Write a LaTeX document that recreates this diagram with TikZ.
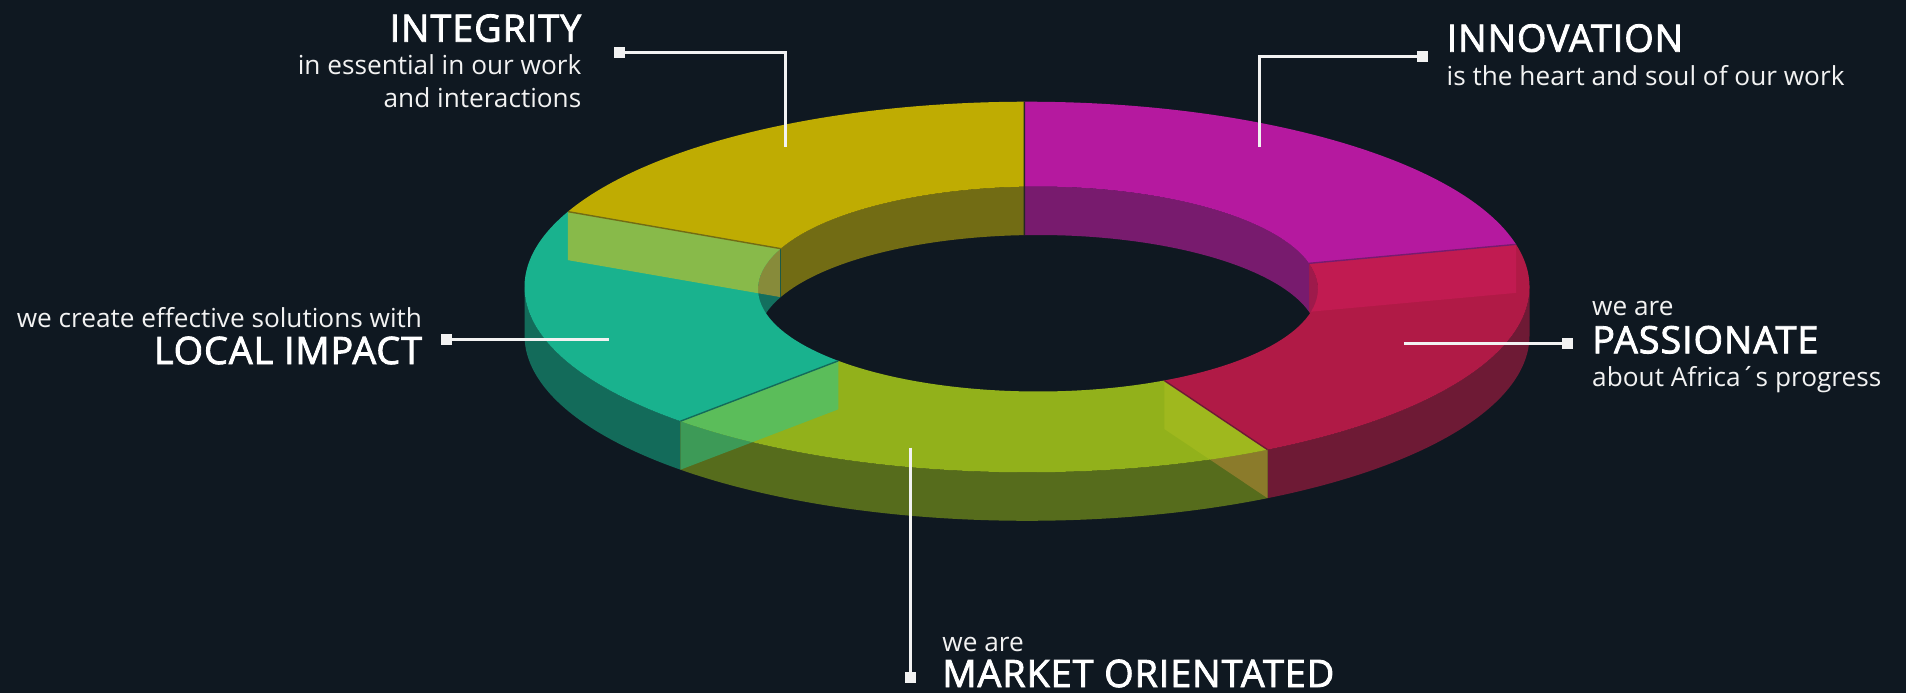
\documentclass[tikz,border=0pt]{standalone}
\usepackage{fontspec}
\setmainfont{Open Sans}
\newfontfamily\headfont{Open Sans}[FakeBold=2.2, LetterSpace=2.4]

\definecolor{bgnavy}{HTML}{0F1821}
\definecolor{yeltop}{HTML}{BFAC02}
\definecolor{yelwall}{HTML}{726C14}
\definecolor{magtop}{HTML}{B5199F}
\definecolor{magwall}{HTML}{781B6E}
\definecolor{redtop}{HTML}{B01A46}
\definecolor{redwall}{HTML}{6E1A35}
\definecolor{redinwall}{HTML}{9E1A4B}
\definecolor{limtop}{HTML}{92B11B}
\definecolor{limwall}{HTML}{566C1C}
\definecolor{teatop}{HTML}{19B28E}
\definecolor{teawall}{HTML}{136B5A}
\definecolor{teainwall}{HTML}{136F5E}
\definecolor{yelface}{HTML}{88BA4A}
\definecolor{yelfacein}{HTML}{878B3A}
\definecolor{teaface}{HTML}{5BBD5A}
\definecolor{teafacewall}{HTML}{3D9A57}
\definecolor{redface}{HTML}{9FB81E}
\definecolor{redfacewall}{HTML}{8B7B2B}
\definecolor{magface}{HTML}{C11B51}
\definecolor{labeltext}{HTML}{F2F2F2}

% ring pieces: outer ellipse round (o), inner ellipse round (i)
\newcommand{\topface}[4]{([shift={(o)}]#1:502.5 and 185.3) arc[start angle=#1, end angle=#2, x radius=502.5, y radius=185.3] -- ([shift={(i)}]#3:280 and 102.5) arc[start angle=#3, end angle=#4, x radius=280, y radius=102.5] -- cycle}
\newcommand{\outwall}[2]{([shift={(o)}]#1:502.5 and 185.3) arc[start angle=#1, end angle=#2, x radius=502.5, y radius=185.3] -- ++(0,-48.5) arc[start angle=#2, end angle=#1, x radius=502.5, y radius=185.3] -- cycle}
\newcommand{\inwall}[2]{([shift={(i)}]#1:280 and 102.5) arc[start angle=#1, end angle=#2, x radius=280, y radius=102.5] -- ++(0,-48.5) arc[start angle=#2, end angle=#1, x radius=280, y radius=102.5] -- cycle}
\newcommand{\cutface}[2]{([shift={(o)}]#1:502.5 and 185.3) -- ([shift={(i)}]#2:280 and 102.5) -- ([shift={(i)},shift={(0,-48.5)}]#2:280 and 102.5) -- ([shift={(o)},shift={(0,-48.5)}]#1:502.5 and 185.3) -- cycle}

\begin{document}
\begin{tikzpicture}[x=0.5pt, y=0.5pt,
    lead/.style={draw=labeltext, line width=1.5pt},
    dot/.style={rectangle, fill=labeltext, inner sep=0pt, minimum size=5.5pt},
    title/.style={text=white, inner sep=0pt, font=\headfont\fontsize{18.9}{22}\selectfont},
    blurb/.style={text=labeltext, inner sep=0pt, font=\fontsize{13.1}{16}\selectfont},
    seam/.style={line width=0.7pt}]
  \useasboundingbox (0,0) rectangle (1906,693);
  \fill[bgnavy] (0,0) rectangle (1906,693);
  \coordinate (o) at (1027,406);
  \coordinate (i) at (1038,404);

  % side walls
  \fill[teawall] \outwall{180}{226.4};
  \fill[limwall] \outwall{226.4}{298.6};
  \fill[redwall] \outwall{298.6}{360};
  % inner walls
  \fill[redinwall] \inwall{0}{14.5};
  \fill[magwall] \inwall{14.5}{92.8};
  \fill[yelwall] \inwall{92.8}{156.8};
  \fill[teainwall] \inwall{156.8}{180};
  % top faces
  \fill[yeltop] \topface{90.3}{156}{156.8}{92.8};
  \fill[teatop] \topface{156}{226.4}{224.5}{156.8};
  \fill[limtop] \topface{226.4}{298.6}{296.8}{224.5};
  \fill[redtop] \topface{298.6}{373.3}{374.5}{296.8};
  \fill[magtop] \topface{13.3}{90.3}{92.8}{14.5};

  % end faces seen through the next piece
  \begin{scope}
    \clip \inwall{156.8}{180};
    \fill[yelfacein] \cutface{156}{156.8};
  \end{scope}
  \begin{scope}
    \clip \topface{156}{226.4}{224.5}{156.8};
    \fill[yelface] \cutface{156}{156.8};
  \end{scope}
  \begin{scope}
    \clip \outwall{226.4}{298.6};
    \fill[teafacewall] \cutface{226.4}{224.5};
    \fill[redfacewall] \cutface{298.6}{296.8};
  \end{scope}
  \begin{scope}
    \clip \topface{226.4}{298.6}{296.8}{224.5};
    \fill[teaface] \cutface{226.4}{224.5};
    \fill[redface] \cutface{298.6}{296.8};
  \end{scope}
  \begin{scope}
    \clip \topface{298.6}{373.3}{374.5}{296.8};
    \fill[magface] \cutface{13.3}{14.5};
  \end{scope}

  % seams
  \draw[seam, draw=black!85] ([shift={(o)}]90.3:502.5 and 185.3) -- ([shift={(i)}]92.8:280 and 102.5) -- ++(0,-48.5);
  \draw[seam, draw=magwall] ([shift={(o)}]13.3:502.5 and 185.3) -- ([shift={(i)}]14.5:280 and 102.5);
  \draw[seam, draw=redwall] ([shift={(o)}]298.6:502.5 and 185.3) -- ([shift={(i)}]296.8:280 and 102.5);
  \draw[seam, draw=teawall] ([shift={(o)}]226.4:502.5 and 185.3) -- ([shift={(i)}]224.5:280 and 102.5);
  \draw[seam, draw=yelwall] ([shift={(o)}]156:502.5 and 185.3) -- ([shift={(i)}]156.8:280 and 102.5);

  % INTEGRITY
  \node[title, anchor=base east] (integTitle) at (581.7,651.3) {INTEGRITY};
  \node[blurb, anchor=base east] (integLineA) at (581.7,619) {in essential in our work};
  \node[blurb, anchor=base east] (integLineB) at (581.7,585.7) {and interactions};
  \node[dot] (integDot) at (619.5,640.7) {};
  \coordinate (integEnd) at (785,545.7);
  \draw[lead] (integDot.center) -| (integEnd);

  % INNOVATION
  \node[title, anchor=base west] (innovTitle) at (1446.3,641.3) {INNOVATION};
  \node[blurb, anchor=base west] (innovLine) at (1446.3,608) {is the heart and soul of our work};
  \node[dot] (innovDot) at (1422,636.3) {};
  \coordinate (innovEnd) at (1259.5,546.3);
  \draw[lead] (innovDot.center) -| (innovEnd);

  % LOCAL IMPACT
  \node[blurb, anchor=base east] (localLine) at (422.4,365.7) {we create effective solutions with};
  \node[title, anchor=base east] (localTitle) at (422.4,329) {LOCAL IMPACT};
  \node[dot] (localDot) at (446.5,353.5) {};
  \coordinate (localEnd) at (609.4,353.5);
  \draw[lead] (localDot.center) -- (localEnd);

  % PASSIONATE
  \node[blurb, anchor=base west] (passLineA) at (1591.8,378) {we are};
  \node[title, anchor=base west] (passTitle) at (1591.8,339.7) {PASSIONATE};
  \node[blurb, anchor=base west] (passLineB) at (1591.8,307) {about Africa´s progress};
  \node[dot] (passDot) at (1567.5,349.6) {};
  \coordinate (passEnd) at (1404,349.6);
  \draw[lead] (passEnd) -- (passDot.center);

  % MARKET ORIENTATED
  \node[blurb, anchor=base west] (marketLine) at (942,42) {we are};
  \node[title, anchor=base west] (marketTitle) at (942,6) {MARKET ORIENTATED};
  \node[dot] (marketDot) at (910,16) {};
  \coordinate (marketEnd) at (910,245.3);
  \draw[lead] (marketEnd) -- (marketDot.center);
\end{tikzpicture}
\end{document}
